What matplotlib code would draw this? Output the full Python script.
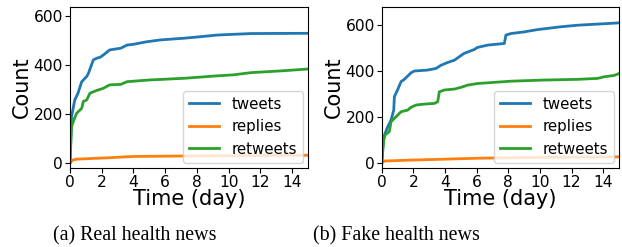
import matplotlib
matplotlib.use("Agg")
import matplotlib.pyplot as plt

# real health news
real_t = [0, 0.1, 0.3, 0.5, 0.74, 1.05, 1.16, 1.47, 1.68, 1.9, 2.1, 2.5, 3.2, 3.6, 4.0, 4.8, 5.7, 7.2, 8.2, 9.3, 11.4, 15]
real_tweets = [0, 188, 256, 283, 331, 352, 365, 420, 427, 431, 440, 461, 468, 481, 484, 494, 502, 509, 515, 522, 528, 529]
real_rt_t = [0, 0.1, 0.25, 0.42, 0.74, 0.84, 1.05, 1.26, 1.68, 2.1, 2.5, 3.2, 3.6, 5.0, 7.2, 9.3, 10.3, 11.4, 13.5, 15]
real_retweets = [0, 147, 175, 202, 222, 250, 256, 284, 295, 304, 318, 320, 331, 338, 345, 355, 359, 368, 376, 383]
real_rp_t = [0, 0.2, 0.42, 2.5, 4.0, 7.2, 15]
real_replies = [0, 11, 14, 20, 25, 27, 30]

# fake health news
fake_t = [0, 0.1, 0.21, 0.38, 0.59, 0.76, 0.8, 1.0, 1.22, 1.43, 1.85, 2.06, 2.9, 3.43, 3.75, 4.17, 4.6,
          5.2, 5.85, 6.06, 6.7, 7.75, 7.85, 8.17, 9.0, 9.85, 11.3, 12.4, 15]
fake_tweets = [0, 101, 129, 158, 187, 230, 288, 317, 353, 363, 391, 399, 403, 410, 424, 436, 446,
               475, 492, 501, 511, 518, 554, 561, 568, 578, 590, 597, 607]
fake_rt_t = [0, 0.13, 0.2, 0.48, 0.59, 0.8, 1.22, 1.64, 1.85, 2.17, 2.7, 3.33, 3.54, 3.64, 3.96, 4.6,
             5.0, 5.43, 6.06, 8.17, 10.3, 12.4, 13.64, 14.06, 14.7, 15]
fake_retweets = [0, 101, 122, 137, 180, 194, 223, 230, 242, 252, 256, 259, 266, 309, 317, 321,
                 328, 338, 345, 355, 360, 363, 367, 374, 380, 388]
fake_rp_t = [0, 0.17, 1.85, 6.06, 10.3, 15]
fake_replies = [0, 10, 14, 22, 26, 28]

captions = ["(a) Real health news", "(b) Fake health news"]
ylims = [(-22, 637), (-20, 676)]

fig = plt.figure(figsize=(6.22, 2.47), dpi=100)
ax1 = fig.add_axes([0.1125, 0.32, 0.3826, 0.652])
ax2 = fig.add_axes([0.6137, 0.32, 0.3815, 0.652])

panels = [
    (ax1, real_t, real_tweets, real_rp_t, real_replies, real_rt_t, real_retweets),
    (ax2, fake_t, fake_tweets, fake_rp_t, fake_replies, fake_rt_t, fake_retweets),
]
for i, (ax, tt, tw, pt, rp, rt, rw) in enumerate(panels):
    ax.plot(tt, tw, color="tab:blue", lw=2, label="tweets")
    ax.plot(pt, rp, color="tab:orange", lw=2, label="replies")
    ax.plot(rt, rw, color="tab:green", lw=2, label="retweets")
    ax.set_xlim(0, 15)
    ax.set_ylim(*ylims[i])
    ax.set_xticks(range(0, 15, 2))
    ax.set_yticks([0, 200, 400, 600])
    ax.tick_params(labelsize=11.2, pad=1.5)
    ax.set_xlabel("Time (day)", fontsize=15, labelpad=-1)
    ax.set_ylabel("Count", fontsize=15, labelpad=1)
    ax.legend(loc="lower right", fontsize=10.8, borderaxespad=0.35)

fig.text(0.2166, 0.045, captions[0], ha="center", va="center",
         fontsize=14.4, family="Liberation Serif")
fig.text(0.638, 0.045, captions[1], ha="center", va="center",
         fontsize=14.4, family="Liberation Serif")

fig.savefig("out.png", dpi=100)
